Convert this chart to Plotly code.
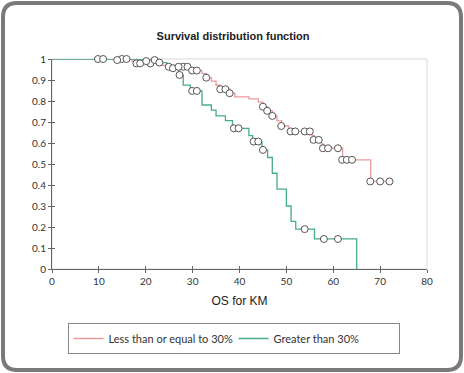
import plotly.graph_objects as go

# ---- data ----
red_step_x = [0, 17, 18, 23, 24.5, 29.5, 32, 33, 34, 35, 36, 38, 39, 42, 44, 45, 46, 47, 48, 49, 50.5, 55.5, 56, 57.5, 58, 62, 68, 72]
red_step_y = [1.0, 0.99, 0.979, 0.97, 0.963, 0.945, 0.93, 0.911, 0.895, 0.875, 0.856, 0.837, 0.82, 0.81, 0.795, 0.773, 0.753, 0.729, 0.705, 0.681, 0.655, 0.635, 0.615, 0.595, 0.575, 0.52, 0.417, 0.417]
red_cens_x = [14.9, 15.9, 18, 18.8, 21, 24.9, 28, 28.9, 29.9, 30.9, 32.9, 35.9, 37, 37.9, 45, 45.9, 47, 48.9, 50.9, 51.9, 53.9, 55, 55.8, 56.9, 57.8, 58.9, 61, 61.9, 62.9, 64, 67.9, 70, 72]
red_cens_y = [1.0, 1.0, 0.979, 0.979, 0.979, 0.963, 0.963, 0.963, 0.945, 0.945, 0.911, 0.856, 0.856, 0.837, 0.773, 0.753, 0.729, 0.681, 0.655, 0.655, 0.655, 0.655, 0.615, 0.615, 0.575, 0.575, 0.575, 0.52, 0.52, 0.52, 0.417, 0.417, 0.417]

green_step_x = [0, 19.5, 22.5, 24.5, 27.1, 28, 29.5, 32, 34, 35, 37, 38.5, 42, 42.8, 44.8, 46, 47, 48, 50, 51, 52, 56, 65]
green_step_y = [1.0, 0.99, 0.983, 0.963, 0.924, 0.876, 0.848, 0.781, 0.757, 0.729, 0.707, 0.67, 0.635, 0.607, 0.567, 0.531, 0.456, 0.38, 0.30, 0.227, 0.19, 0.143, 0.0]
green_cens_x = [9.8, 10.9, 13.9, 20.1, 21.9, 22.9, 25.8, 27, 27.2, 29.9, 30.9, 38.8, 39.8, 43, 44, 45, 53.9, 58, 61]
green_cens_y = [1.0, 1.0, 0.995, 0.99, 0.995, 0.983, 0.956, 0.963, 0.924, 0.848, 0.848, 0.67, 0.67, 0.607, 0.607, 0.567, 0.19, 0.143, 0.143]

x_ticks = [0, 10, 20, 30, 40, 50, 60, 70, 80]
y_ticks = [0, 0.1, 0.2, 0.3, 0.4, 0.5, 0.6, 0.7, 0.8, 0.9, 1]
y_tick_labels = ["0", "0.1", "0.2", "0.3", "0.4", "0.5", "0.6", "0.7", "0.8", "0.9", "1"]

RED = "#E99A9A"
GREEN = "#45AE82"
MARK = "#555555"

fig = go.Figure()
fig.add_trace(go.Scatter(x=red_step_x, y=red_step_y, mode="lines", line=dict(shape="hv", color=RED, width=1.3),
                         name="Less than or equal to 30%", cliponaxis=False, hoverinfo="skip"))
fig.add_trace(go.Scatter(x=green_step_x, y=green_step_y, mode="lines", line=dict(shape="hv", color=GREEN, width=1.3),
                         name="Greater than 30%", cliponaxis=False, hoverinfo="skip"))
fig.add_trace(go.Scatter(x=red_cens_x, y=red_cens_y, mode="markers", showlegend=False, cliponaxis=False,
                         marker=dict(symbol="circle", size=7, color="white", line=dict(color=MARK, width=1))))
fig.add_trace(go.Scatter(x=green_cens_x, y=green_cens_y, mode="markers", showlegend=False, cliponaxis=False,
                         marker=dict(symbol="circle", size=7, color="white", line=dict(color=MARK, width=1))))
# overlay axes for inside ticks (cross-style ticks)
fig.add_trace(go.Scatter(x=[None], y=[None], xaxis="x2", yaxis="y2", showlegend=False, hoverinfo="skip"))

# outer rounded frame (paper coords)
L, R, T, B = 52, 37, 59, 104
W, H = 464, 373
pw, ph = W - L - R, H - T - B
def px(xpix):
    return (xpix - L) / pw
def py(ypix):
    return (H - B - ypix) / ph
x0, x1, yT, yB = px(3), px(461), py(3), py(370)
rx, ry = 14 / pw, 14 / ph
path = (f"M {x0+rx},{yT} L {x1-rx},{yT} Q {x1},{yT} {x1},{yT-ry} L {x1},{yB+ry} Q {x1},{yB} {x1-rx},{yB} "
        f"L {x0+rx},{yB} Q {x0},{yB} {x0},{yB+ry} L {x0},{yT-ry} Q {x0},{yT} {x0+rx},{yT} Z")

fig.update_layout(
    width=W, height=H,
    margin=dict(l=L, r=R, t=T, b=B),
    paper_bgcolor="white", plot_bgcolor="white",
    title=dict(text="<b>Survival distribution function</b>", x=233 / W, xref="container", xanchor="center",
               y=1 - 36 / H, yanchor="middle", font=dict(family="Liberation Sans, Arial", size=11, color="#222")),
    xaxis=dict(range=[0, 80], tickvals=x_ticks, ticks="outside", ticklen=3, tickcolor="#666", showgrid=False,
               zeroline=False, showline=True, linecolor="#666", linewidth=1,
               tickfont=dict(family="Lato", size=10, color="#333"),
               title=dict(text="OS for KM", font=dict(family="Liberation Sans, Arial", size=12, color="#222"), standoff=10)),
    yaxis=dict(range=[0, 1], tickvals=y_ticks, ticktext=y_tick_labels, ticks="outside", ticklen=3, tickcolor="#666",
               showgrid=False, zeroline=False, showline=True, linecolor="#666", linewidth=1,
               tickfont=dict(family="Lato", size=10, color="#333")),
    xaxis2=dict(overlaying="x", range=[0, 80], tickvals=x_ticks, ticks="inside", ticklen=3, tickcolor="#666",
                showticklabels=False, showgrid=False, zeroline=False, showline=False, anchor="y2"),
    yaxis2=dict(overlaying="y", range=[0, 1], tickvals=y_ticks, ticks="inside", ticklen=3, tickcolor="#666",
                showticklabels=False, showgrid=False, zeroline=False, showline=False, anchor="x2"),
    legend=dict(orientation="h", x=px(233.5), xanchor="center", y=py(323), yanchor="top",
                bordercolor="#888", borderwidth=1, font=dict(family="Lato", size=11, color="#333"),
                itemwidth=30, entrywidth=120, entrywidthmode="pixels"),
    shapes=[
        dict(type="rect", xref="paper", yref="paper", x0=0, x1=1, y0=0, y1=1, line=dict(color="#D9D9D9", width=1), layer="below"),
        dict(type="path", xref="paper", yref="paper", path=path, line=dict(color="#7A7A7A", width=4)),
    ],
    showlegend=True,
)

fig.write_html("out.html", config={"displayModeBar": False},
               post_script="document.body.style.margin='0';document.body.style.overflow='hidden';")
